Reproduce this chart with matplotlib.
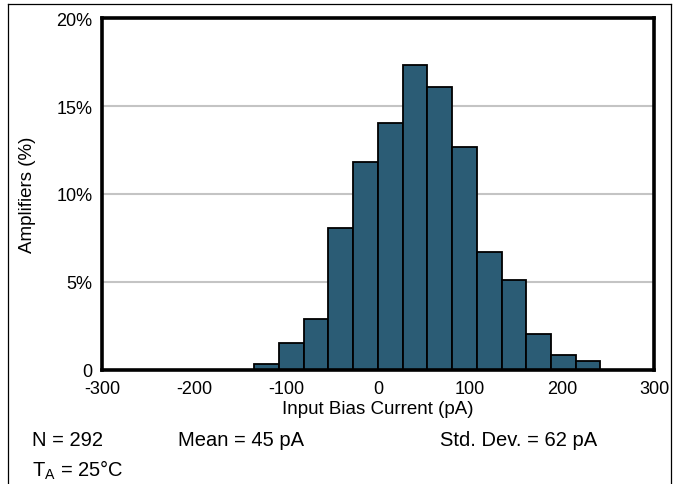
import matplotlib
matplotlib.use("Agg")
import matplotlib.pyplot as plt
from matplotlib.lines import Line2D

plt.rcParams['font.family'] = ['Liberation Sans', 'DejaVu Sans']

# Histogram data (bin edges in pA, heights in %)
bin_edges = [-134.5, -107.6, -80.8, -54.0, -26.9, 0.0, 26.9, 53.8, 80.7, 107.6,
             134.5, 161.3, 188.1, 214.9, 241.8]
percent = [0.34, 1.53, 2.90, 8.05, 11.80, 14.03, 17.31, 16.10, 12.67, 6.69,
           5.14, 2.05, 0.87, 0.51]
x_ticks = [-300, -200, -100, 0, 100, 200, 300]
y_ticks = [0, 5, 10, 15, 20]
y_tick_labels = ['0', '5%', '10%', '15%', '20%']
notes = ['N = 292', 'Mean = 45 pA', 'Std. Dev. = 62 pA']

W, H = 673, 485
fig = plt.figure(figsize=(W/100, H/100), dpi=100)
ax = fig.add_axes([102/W, 1 - 371/H, (654-102)/W, (371-19)/H])

lefts = bin_edges[:-1]
widths = [b - a for a, b in zip(bin_edges[:-1], bin_edges[1:])]
ax.bar(lefts, percent, width=widths, align='edge', color='#2b5c75',
       edgecolor='black', linewidth=1.3, zorder=3)

ax.set_xlim(-300, 300)
ax.set_ylim(0, 20)
ax.set_xticks(x_ticks)
ax.set_xticklabels([str(v) for v in x_ticks])
ax.set_yticks(y_ticks)
ax.set_yticklabels(y_tick_labels)
ax.tick_params(length=0, labelsize=13)
ax.tick_params(axis='x', pad=7)
ax.tick_params(axis='y', pad=7)
ax.yaxis.grid(True, color='#c4c4c4', linewidth=1.5, zorder=0)
ax.set_axisbelow(True)
for s in ax.spines.values():
    s.set_linewidth(2.6)
    s.set_color('black')
    s.set_zorder(5)

ax.set_xlabel('Input Bias Current (pA)', fontsize=13.5, va='center')
ax.xaxis.set_label_coords(0.5, (371 - 410) / 352)
ax.set_ylabel('Amplifiers (%)', fontsize=13.5, va='center')
ax.yaxis.set_label_coords((28 - 102) / 552, 0.5)

fs = 14.5
fig.text(32/W, 1 - 441/H, notes[0], fontsize=fs, va='center', ha='left')
fig.text(178/W, 1 - 441/H, notes[1], fontsize=fs, va='center', ha='left')
fig.text(440/W, 1 - 441/H, notes[2], fontsize=fs, va='center', ha='left')
fig.text(32/W, 1 - 470/H, r'T$_\mathregular{A}$ = 25°C', fontsize=fs, va='center', ha='left')

# outer frame lines
fig.add_artist(Line2D([8/W, 8/W], [0, 1 - 5/H], color='black', linewidth=0.9))
fig.add_artist(Line2D([8/W, 671/W], [1 - 5/H, 1 - 5/H], color='black', linewidth=0.9))
fig.add_artist(Line2D([671/W, 671/W], [0, 1 - 5/H], color='black', linewidth=0.9))

fig.savefig('out.png', dpi=100)
